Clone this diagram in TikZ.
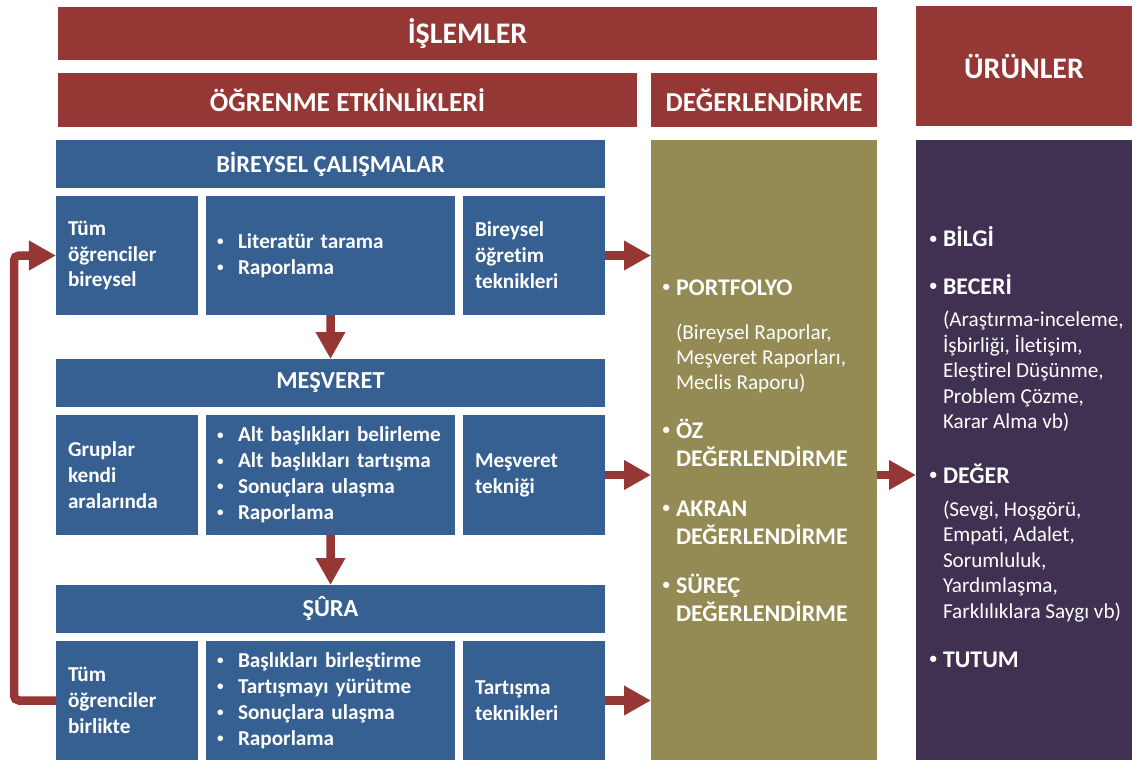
\documentclass[tikz,border=0pt]{standalone}
\usepackage{fontspec}
\usepackage{graphicx}
\setmainfont{Carlito}[Ligatures=NoCommon]
\usetikzlibrary{arrows.meta}
\definecolor{cred}{RGB}{149,55,53}
\definecolor{cblue}{RGB}{55,96,146}
\definecolor{colive}{RGB}{148,138,84}
\definecolor{cpurple}{RGB}{64,49,82}
\newcommand\smallbul{\raisebox{0.13em}{\scalebox{0.62}{•}}}
\newcommand\cellbul{\makebox[23bp][l]{\hspace{2bp}\smallbul}}
\newcommand\sidebul{\llap{\smallbul\hspace{6bp}}}
\begin{document}
\begin{tikzpicture}[x=1bp,y=-1bp,
 hdr/.style={anchor=north west, inner sep=0pt, outer sep=0pt, text=white, align=center},
 cell/.style={anchor=north west, inner ysep=0pt, outer sep=0pt, text=white, fill=cblue, align=left, font=\fontsize{21.3}{26}\selectfont\bfseries},
 bigarrow/.style={draw=cred, line width=8.5bp, -{Triangle[width=28bp,length=27bp]}},
 ln/.style={anchor=base west, inner sep=0pt, outer sep=0pt, text=white},
 bl/.style={ln, font=\fontsize{24}{28}\selectfont\bfseries},
 rl/.style={ln, font=\fontsize{21.3}{25.5}\selectfont}]
\useasboundingbox (0,0) rectangle (1139,763);
\fill[white] (0,0) rectangle (1139,763);
% headers
\node[hdr, fill=cred, minimum width=819bp, minimum height=53bp, font=\fontsize{30}{36}\selectfont\bfseries] (islem) at (58,7) {İŞLEMLER};
\node[hdr, fill=cred, minimum width=216bp, minimum height=120bp, font=\fontsize{30}{36}\selectfont\bfseries] (urun) at (916,6) {ÜRÜNLER};
\node[hdr, fill=cred, minimum width=579bp, minimum height=54bp, font=\fontsize{27.5}{33}\selectfont\bfseries] (ogren) at (58,73) {ÖĞRENME ETKİNLİKLERİ};
\node[hdr, fill=cred, minimum width=226bp, minimum height=54bp, font=\fontsize{27.5}{33}\selectfont\bfseries] (degh) at (651,73) {DEĞERLENDİRME};
% section bars
\node[hdr, fill=cblue, minimum width=549bp, minimum height=48bp, font=\fontsize{24.5}{29}\selectfont\bfseries] (bar1) at (56,140) {BİREYSEL ÇALIŞMALAR};
\node[hdr, fill=cblue, minimum width=549bp, minimum height=48bp, font=\fontsize{24.5}{29}\selectfont\bfseries] (bar2) at (56,359) {MEŞVERET};
\node[hdr, fill=cblue, minimum width=549bp, minimum height=48bp, font=\fontsize{24.5}{29}\selectfont\bfseries] (bar3) at (56,585) {ŞÛRA};
% row 1
\node[cell, minimum width=142bp, minimum height=119bp, text width=118bp, inner xsep=12bp] (r11) at (56,196) {Tüm\\öğrenciler\\bireysel};
\node[cell, minimum width=249bp, minimum height=119bp, text width=231bp, inner xsep=9bp] (r12) at (206,196) {\cellbul Literatür tarama\\\cellbul Raporlama};
\node[cell, minimum width=142bp, minimum height=119bp, text width=118bp, inner xsep=12bp] (r13) at (463,196) {Bireysel\\öğretim\\teknikleri};
% row 2
\node[cell, minimum width=142bp, minimum height=120bp, text width=118bp, inner xsep=12bp] (r21) at (56,415) {Gruplar\\kendi\\aralarında};
\node[cell, minimum width=249bp, minimum height=120bp, text width=231bp, inner xsep=9bp] (r22) at (206,415) {\cellbul Alt başlıkları belirleme\\\cellbul Alt başlıkları tartışma\\\cellbul Sonuçlara ulaşma\\\cellbul Raporlama};
\node[cell, minimum width=142bp, minimum height=120bp, text width=118bp, inner xsep=12bp] (r23) at (463,415) {Meşveret\\tekniği};
% row 3
\node[cell, minimum width=142bp, minimum height=119bp, text width=118bp, inner xsep=12bp] (r31) at (56,641) {Tüm\\öğrenciler\\birlikte};
\node[cell, minimum width=249bp, minimum height=119bp, text width=231bp, inner xsep=9bp] (r32) at (206,641) {\cellbul Başlıkları birleştirme\\\cellbul Tartışmayı yürütme\\\cellbul Sonuçlara ulaşma\\\cellbul Raporlama};
\node[cell, minimum width=142bp, minimum height=119bp, text width=118bp, inner xsep=12bp] (r33) at (463,641) {Tartışma\\teknikleri};
% big columns
\node[hdr, fill=colive, minimum width=226bp, minimum height=620bp] (olive) at (651,140) {};
\node[hdr, fill=cpurple, minimum width=216bp, minimum height=620bp] (purple) at (916,140) {};
% olive texts
\node[bl] (o1) at (676,295) {\sidebul PORTFOLYO};
\node[rl] (o2) at (676,339.5) {(Bireysel Raporlar,};
\node[rl] (o3) at (676,364.5) {Meşveret Raporları,};
\node[rl] (o4) at (676,389.5) {Meclis Raporu)};
\node[bl] (o5) at (676,438) {\sidebul ÖZ};
\node[bl] (o6) at (676,466.5) {DEĞERLENDİRME};
\node[bl] (o7) at (676,516) {\sidebul AKRAN};
\node[bl] (o8) at (676,544) {DEĞERLENDİRME};
\node[bl] (o9) at (676,593) {\sidebul SÜREÇ};
\node[bl] (o10) at (676,621) {DEĞERLENDİRME};
% purple texts
\node[bl] (p1) at (943,246.7) {\sidebul BİLGİ};
\node[bl] (p2) at (943,294) {\sidebul BECERİ};
\node[rl] (p3) at (943,326.5) {(Araştırma-inceleme,};
\node[rl] (p4) at (943,352) {İşbirliği, İletişim,};
\node[rl] (p5) at (943,377.5) {Eleştirel Düşünme,};
\node[rl] (p6) at (943,403) {Problem Çözme,};
\node[rl] (p7) at (943,428.5) {Karar Alma vb)};
\node[bl] (p8) at (943,483) {\sidebul DEĞER};
\node[rl] (p9) at (943,516) {(Sevgi, Hoşgörü,};
\node[rl] (p10) at (943,541.5) {Empati, Adalet,};
\node[rl] (p11) at (943,567) {Sorumluluk,};
\node[rl] (p12) at (943,592.5) {Yardımlaşma,};
\node[rl] (p13) at (943,618) {Farklılıklara Saygı vb)};
\node[bl] (p14) at (943,667) {\sidebul TUTUM};
% arrows
\draw[bigarrow] (r13.east) -- (olive.west |- r13.east);
\draw[bigarrow] (r23.east) -- (olive.west |- r23.east);
\draw[bigarrow] (r33.east) -- (olive.west |- r33.east);
\draw[bigarrow] (olive.east |- r23.east) -- (purple.west |- r23.east);
\draw[bigarrow] (r12.south) -- (bar2.north);
\draw[bigarrow] (r22.south) -- (bar3.north);
\draw[bigarrow, rounded corners=5bp] (r31.west) -- ++(-42,0) |- (r11.west);
\end{tikzpicture}
\end{document}
